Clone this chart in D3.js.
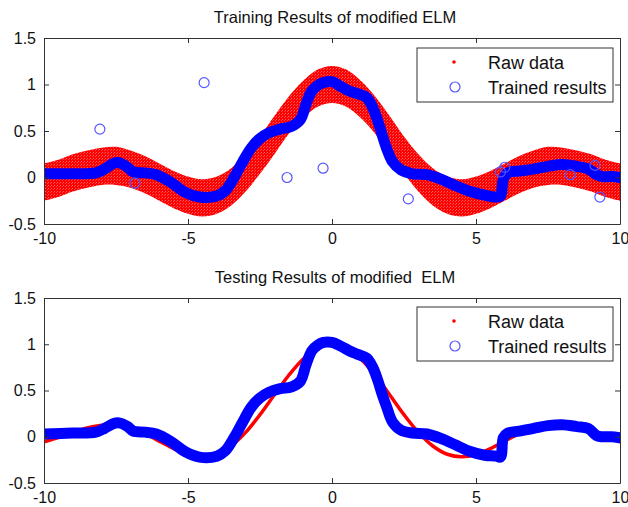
<!DOCTYPE html>
<html>
<head>
<meta charset="utf-8">
<script src="https://cdnjs.cloudflare.com/ajax/libs/d3/7.8.5/d3.min.js"></script>
<style>
  body { margin: 0; background: #fff; }
  svg text { font-family: Arial, "Liberation Sans", sans-serif; fill: #111; }
</style>
</head>
<body>
<div id="chart"></div>
<script>
// x grid for the raw data (noisy band, top) and the clean curve (bottom)
var rawX = [-10,-9.5,-9,-8.5,-8,-7.5,-7,-6.5,-6,-5.5,-5,-4.5,-4,-3.5,-3,-2.5,-2,-1.5,-1,-0.5,0,
            0.5,1,1.5,2,2.5,3,3.5,4,4.5,5,5.5,6,6.5,7,7.5,8,8.5,9,9.5,10];
var rawMid = [-0.054,-0.008,0.046,0.094,0.124,0.125,0.094,0.033,-0.047,-0.128,-0.192,-0.217,-0.189,-0.100,0.047,0.239,0.455,0.665,0.841,0.959,1.0,
              0.959,0.841,0.665,0.455,0.239,0.047,-0.100,-0.189,-0.217,-0.192,-0.128,-0.047,0.033,0.094,0.125,0.124,0.094,0.046,-0.008,-0.054];
var rawUpper = [0.15,0.19,0.25,0.29,0.32,0.33,0.29,0.23,0.15,0.07,0.01,-0.02,0.01,0.10,0.25,0.44,0.66,0.87,1.04,1.16,1.20,
                1.16,1.04,0.87,0.66,0.44,0.25,0.10,0.01,-0.02,0.01,0.07,0.15,0.23,0.29,0.33,0.32,0.29,0.25,0.19,0.15];
var rawLower = [-0.25,-0.21,-0.15,-0.11,-0.08,-0.08,-0.11,-0.17,-0.25,-0.33,-0.39,-0.42,-0.39,-0.30,-0.15,0.04,0.25,0.47,0.64,0.76,0.80,
                0.76,0.64,0.47,0.25,0.04,-0.15,-0.30,-0.39,-0.42,-0.39,-0.33,-0.25,-0.17,-0.11,-0.08,-0.08,-0.11,-0.15,-0.21,-0.25];

// trained (fitted) output of the modified ELM
var trainX = [-10,-9,-8.2,-7.9,-7.6,-7.4,-7.1,-6.9,-6.5,-6.1,-5.6,-5.1,-4.6,-4.0,-3.7,-3.4,-3.1,-2.8,-2.5,-2.2,-1.8,-1.4,-1.1,-0.9,-0.7,-0.5,-0.3,0,
              0.3,0.6,0.9,1.2,1.4,1.6,1.75,1.9,2.1,2.4,2.8,3.3,3.8,4.3,4.8,5.3,5.7,5.85,5.95,6.1,6.5,7.0,7.5,8.0,8.5,8.9,9.2,9.4,9.7,10];
var trainY = [0.04,0.04,0.05,0.09,0.15,0.16,0.11,0.06,0.05,0.03,-0.05,-0.16,-0.21,-0.20,-0.14,0.0,0.17,0.32,0.42,0.48,0.52,0.55,0.62,0.79,0.93,0.99,1.02,1.03,
              0.98,0.93,0.90,0.86,0.76,0.60,0.45,0.31,0.17,0.08,0.04,0.03,-0.02,-0.09,-0.15,-0.19,-0.21,-0.20,-0.02,0.05,0.07,0.09,0.12,0.14,0.12,0.09,0.03,0.01,0.01,0.0];
var testX = trainX;
var testY = [0.03,0.04,0.05,0.09,0.14,0.15,0.11,0.06,0.05,0.03,-0.05,-0.16,-0.22,-0.21,-0.15,-0.01,0.16,0.32,0.42,0.48,0.52,0.54,0.60,0.78,0.93,0.99,1.02,1.02,
             0.98,0.93,0.89,0.85,0.76,0.60,0.45,0.32,0.16,0.07,0.04,0.03,-0.02,-0.09,-0.16,-0.20,-0.21,-0.22,-0.01,0.04,0.06,0.09,0.12,0.13,0.11,0.09,0.01,0.0,0.0,-0.01];

// stray trained points (outliers) in the training plot
var outX = [-8.06,-6.84,-4.44,-1.56,-0.31,2.65,5.85,6.0,8.27,9.13,9.3];
var outY = [0.52,-0.06,1.02,0.0,0.10,-0.23,0.06,0.11,0.03,0.13,-0.21];

var xTicks = [-10,-5,0,5,10];
var yTicks = [-0.5,0,0.5,1,1.5];
var titles = ["Training Results of modified ELM", "Testing Results of modified  ELM"];
var legendLabels = ["Raw data", "Trained results"];

var width = 628, height = 507;
var svg = d3.select("#chart").append("svg")
    .attr("width", width)
    .attr("height", height);

// dotty fill to mimic thousands of red noisy samples
var defs = svg.append("defs");
var pat = defs.append("pattern")
    .attr("id", "dots")
    .attr("width", 3).attr("height", 3)
    .attr("patternUnits", "userSpaceOnUse");
pat.append("circle").attr("cx", 0.8).attr("cy", 0.8).attr("r", 1.7).attr("fill", "#ff0000");
pat.append("circle").attr("cx", 2.3).attr("cy", 2.2).attr("r", 1.7).attr("fill", "#ff0000");

var panels = [
    {top: 38, bottom: 224, titleY: 23, raw: "band", fitY: trainY, fitX: trainX, outliers: true, legendTop: 48},
    {top: 298, bottom: 483, titleY: 283, raw: "line", fitY: testY, fitX: testX, outliers: false, legendTop: 307}
];

var left = 44, right = 620;

panels.forEach(function(p, i) {
    var x = d3.scaleLinear().domain([-10, 10]).range([left, right]);
    var y = d3.scaleLinear().domain([-0.5, 1.5]).range([p.bottom, p.top]);
    var g = svg.append("g");

    defs.append("clipPath").attr("id", "clip" + i)
        .append("rect")
        .attr("x", left).attr("y", p.top)
        .attr("width", right - left).attr("height", p.bottom - p.top);

    var plot = g.append("g").attr("clip-path", "url(#clip" + i + ")");

    if (p.raw == "band") {
        var area = d3.area()
            .x(function(d, k) { return x(rawX[k]); })
            .y0(function(d, k) { return y(rawLower[k]); })
            .y1(function(d, k) { return y(rawUpper[k]); })
            .curve(d3.curveCatmullRom);
        plot.append("path")
            .datum(rawX)
            .attr("d", area)
            .attr("fill", "url(#dots)");
    } else {
        var rline = d3.line()
            .x(function(d, k) { return x(rawX[k]); })
            .y(function(d, k) { return y(rawMid[k]); })
            .curve(d3.curveCatmullRom);
        plot.append("path")
            .datum(rawX)
            .attr("d", rline)
            .attr("fill", "none")
            .attr("stroke", "#ff0000")
            .attr("stroke-width", 3.5);
    }

    // fitted curve: overlapping circles look like a thick blue band
    var fline = d3.line()
        .x(function(d, k) { return x(p.fitX[k]); })
        .y(function(d, k) { return y(p.fitY[k]); })
        .curve(d3.curveCatmullRom.alpha(0.5));
    plot.append("path")
        .datum(p.fitX)
        .attr("d", fline)
        .attr("fill", "none")
        .attr("stroke", "#0000ff")
        .attr("stroke-width", 11)
        .attr("stroke-linecap", "round")
        .attr("stroke-linejoin", "round");

    if (p.outliers) {
        plot.selectAll(".out")
            .data(outX)
            .enter().append("circle")
            .attr("class", "out")
            .attr("cx", function(d) { return x(d); })
            .attr("cy", function(d, k) { return y(outY[k]); })
            .attr("r", 5)
            .attr("fill", "none")
            .attr("stroke", "#5555ff")
            .attr("stroke-width", 1.2);
    }

    // axes, MATLAB-like box with inward ticks
    var fmt = function(d) { return String(d); };
    g.append("g")
        .attr("transform", "translate(0," + p.bottom + ")")
        .call(d3.axisBottom(x).tickValues(xTicks).tickSizeInner(-5).tickSizeOuter(0).tickPadding(9).tickFormat(fmt))
        .call(styleAxis);
    g.append("g")
        .attr("transform", "translate(0," + p.top + ")")
        .call(d3.axisTop(x).tickValues(xTicks).tickSizeInner(-5).tickSizeOuter(0).tickFormat(""))
        .call(styleAxis);
    g.append("g")
        .attr("transform", "translate(" + left + ",0)")
        .call(d3.axisLeft(y).tickValues(yTicks).tickSizeInner(-5).tickSizeOuter(0).tickPadding(8).tickFormat(fmt))
        .call(styleAxis);
    g.append("g")
        .attr("transform", "translate(" + right + ",0)")
        .call(d3.axisRight(y).tickValues(yTicks).tickSizeInner(-5).tickSizeOuter(0).tickFormat(""))
        .call(styleAxis);

    g.append("text")
        .attr("x", (left + right) / 2 + 3)
        .attr("y", p.titleY)
        .attr("text-anchor", "middle")
        .style("font-size", "16.5px")
        .style("white-space", "pre")
        .text(titles[i]);

    // legend
    var lg = g.append("g").attr("transform", "translate(417," + p.legendTop + ")");
    lg.append("rect")
        .attr("width", 196).attr("height", 54)
        .attr("fill", "#fff")
        .attr("stroke", "#333")
        .attr("stroke-width", 1);
    lg.append("circle").attr("cx", 37).attr("cy", 14).attr("r", 1.8).attr("fill", "#ff0000");
    lg.append("circle").attr("cx", 38).attr("cy", 39).attr("r", 5)
        .attr("fill", "none").attr("stroke", "#5555ff").attr("stroke-width", 1.2);
    lg.selectAll(".lt")
        .data(legendLabels)
        .enter().append("text")
        .attr("class", "lt")
        .attr("x", 71)
        .attr("y", function(d, k) { return 21 + k * 25; })
        .style("font-size", "18px")
        .text(function(d) { return d; });
});

function styleAxis(sel) {
    sel.select(".domain").attr("stroke", "#333");
    sel.selectAll(".tick line").attr("stroke", "#333");
    sel.selectAll(".tick text")
        .style("font-size", "16px")
        .style("font-family", "Arial, 'Liberation Sans', sans-serif")
        .attr("fill", "#111");
}
</script>
</body>
</html>
